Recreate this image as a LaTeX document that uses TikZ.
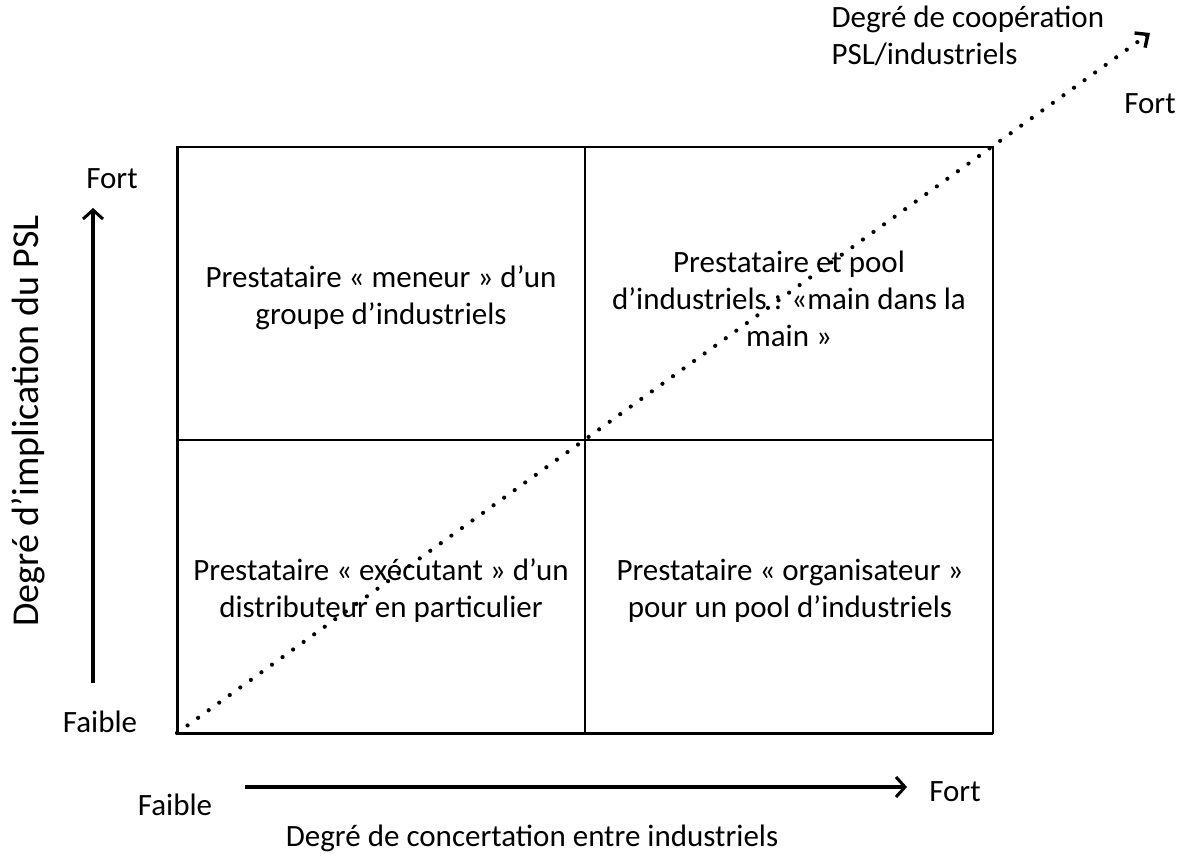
\documentclass[tikz,border=0pt]{standalone}
\usepackage{fontspec}
\setmainfont{Carlito}
\usepackage{tikz}
\usetikzlibrary{arrows.meta,calc}

\begin{document}
\begin{tikzpicture}[x=1pt,y=-1pt,auto,font=\fontsize{31}{37}\selectfont]
    \useasboundingbox (0,0) rectangle (1181,857);
    % grid
    \coordinate (sw) at (177,733);
    \coordinate (ne) at (993,147);
    \coordinate (c) at (585,440);
    \draw [line width=1.8pt] (sw) rectangle (ne);
    \draw [line width=3pt] (177,147) -- (sw) -- (993,733);
    \draw [line width=1.8pt] (585,147) -- (585,733);
    \draw [line width=1.8pt] (177,440) -- (993,440);
    \node[align=center] (tl) at (381,298) {Prestataire « meneur » d’un\\groupe d’industriels};
    \node[align=center] (tr) at (789,299) {Prestataire et pool\\d’industriels : «main dans la\\main »};
    \node[align=center] (bl) at (381,591) {Prestataire « exécutant » d’un\\distributeur en particulier};
    \node[align=center] (br) at (790,591) {Prestataire « organisateur »\\pour un pool d’industriels};
    % axes
    \coordinate (v0) at (93,683);
    \coordinate (v1) at (93,208);
    \coordinate (h0) at (245,787);
    \coordinate (h1) at (907,787);
    \coordinate (d1) at (1150,33);
    \coordinate (d0) at ($(d1)!14pt!(sw)$);
    \coordinate (dt) at ($(d1)!6pt!(sw)$);
    \draw [-{Straight Barb[length=9pt,width=20pt,line width=3pt]},line width=3.4pt] (v0) to (v1);
    \draw [-{Straight Barb[length=9pt,width=20pt,line width=3pt]},line width=3.4pt] (h0) to (h1);
    \draw [line width=4.2pt,line cap=round,dash pattern=on 0pt off 13pt] (sw) to (d0);
    \draw [-{Straight Barb[length=10pt,width=18pt,line width=3.4pt]},line width=3pt] (dt) to (d1);
    \node (a) at (112,179) {Fort};
    \node (b) at (100,722) {Faible};
    \node[rotate=90,font=\fontsize{38}{44}\selectfont] (c) at (28,421) {Degré d’implication du PSL};
    \node (d) at (175,805) {Faible};
    \node (e) at (955,792) {Fort};
    \node (f) at (532,838) {Degré de concertation entre industriels};
    \node[align=left,anchor=north west] (g) at (828,2) {Degré de coopération\\PSL/industriels};
    \node (h) at (1150,104) {Fort};
  \end{tikzpicture}
\end{document}
